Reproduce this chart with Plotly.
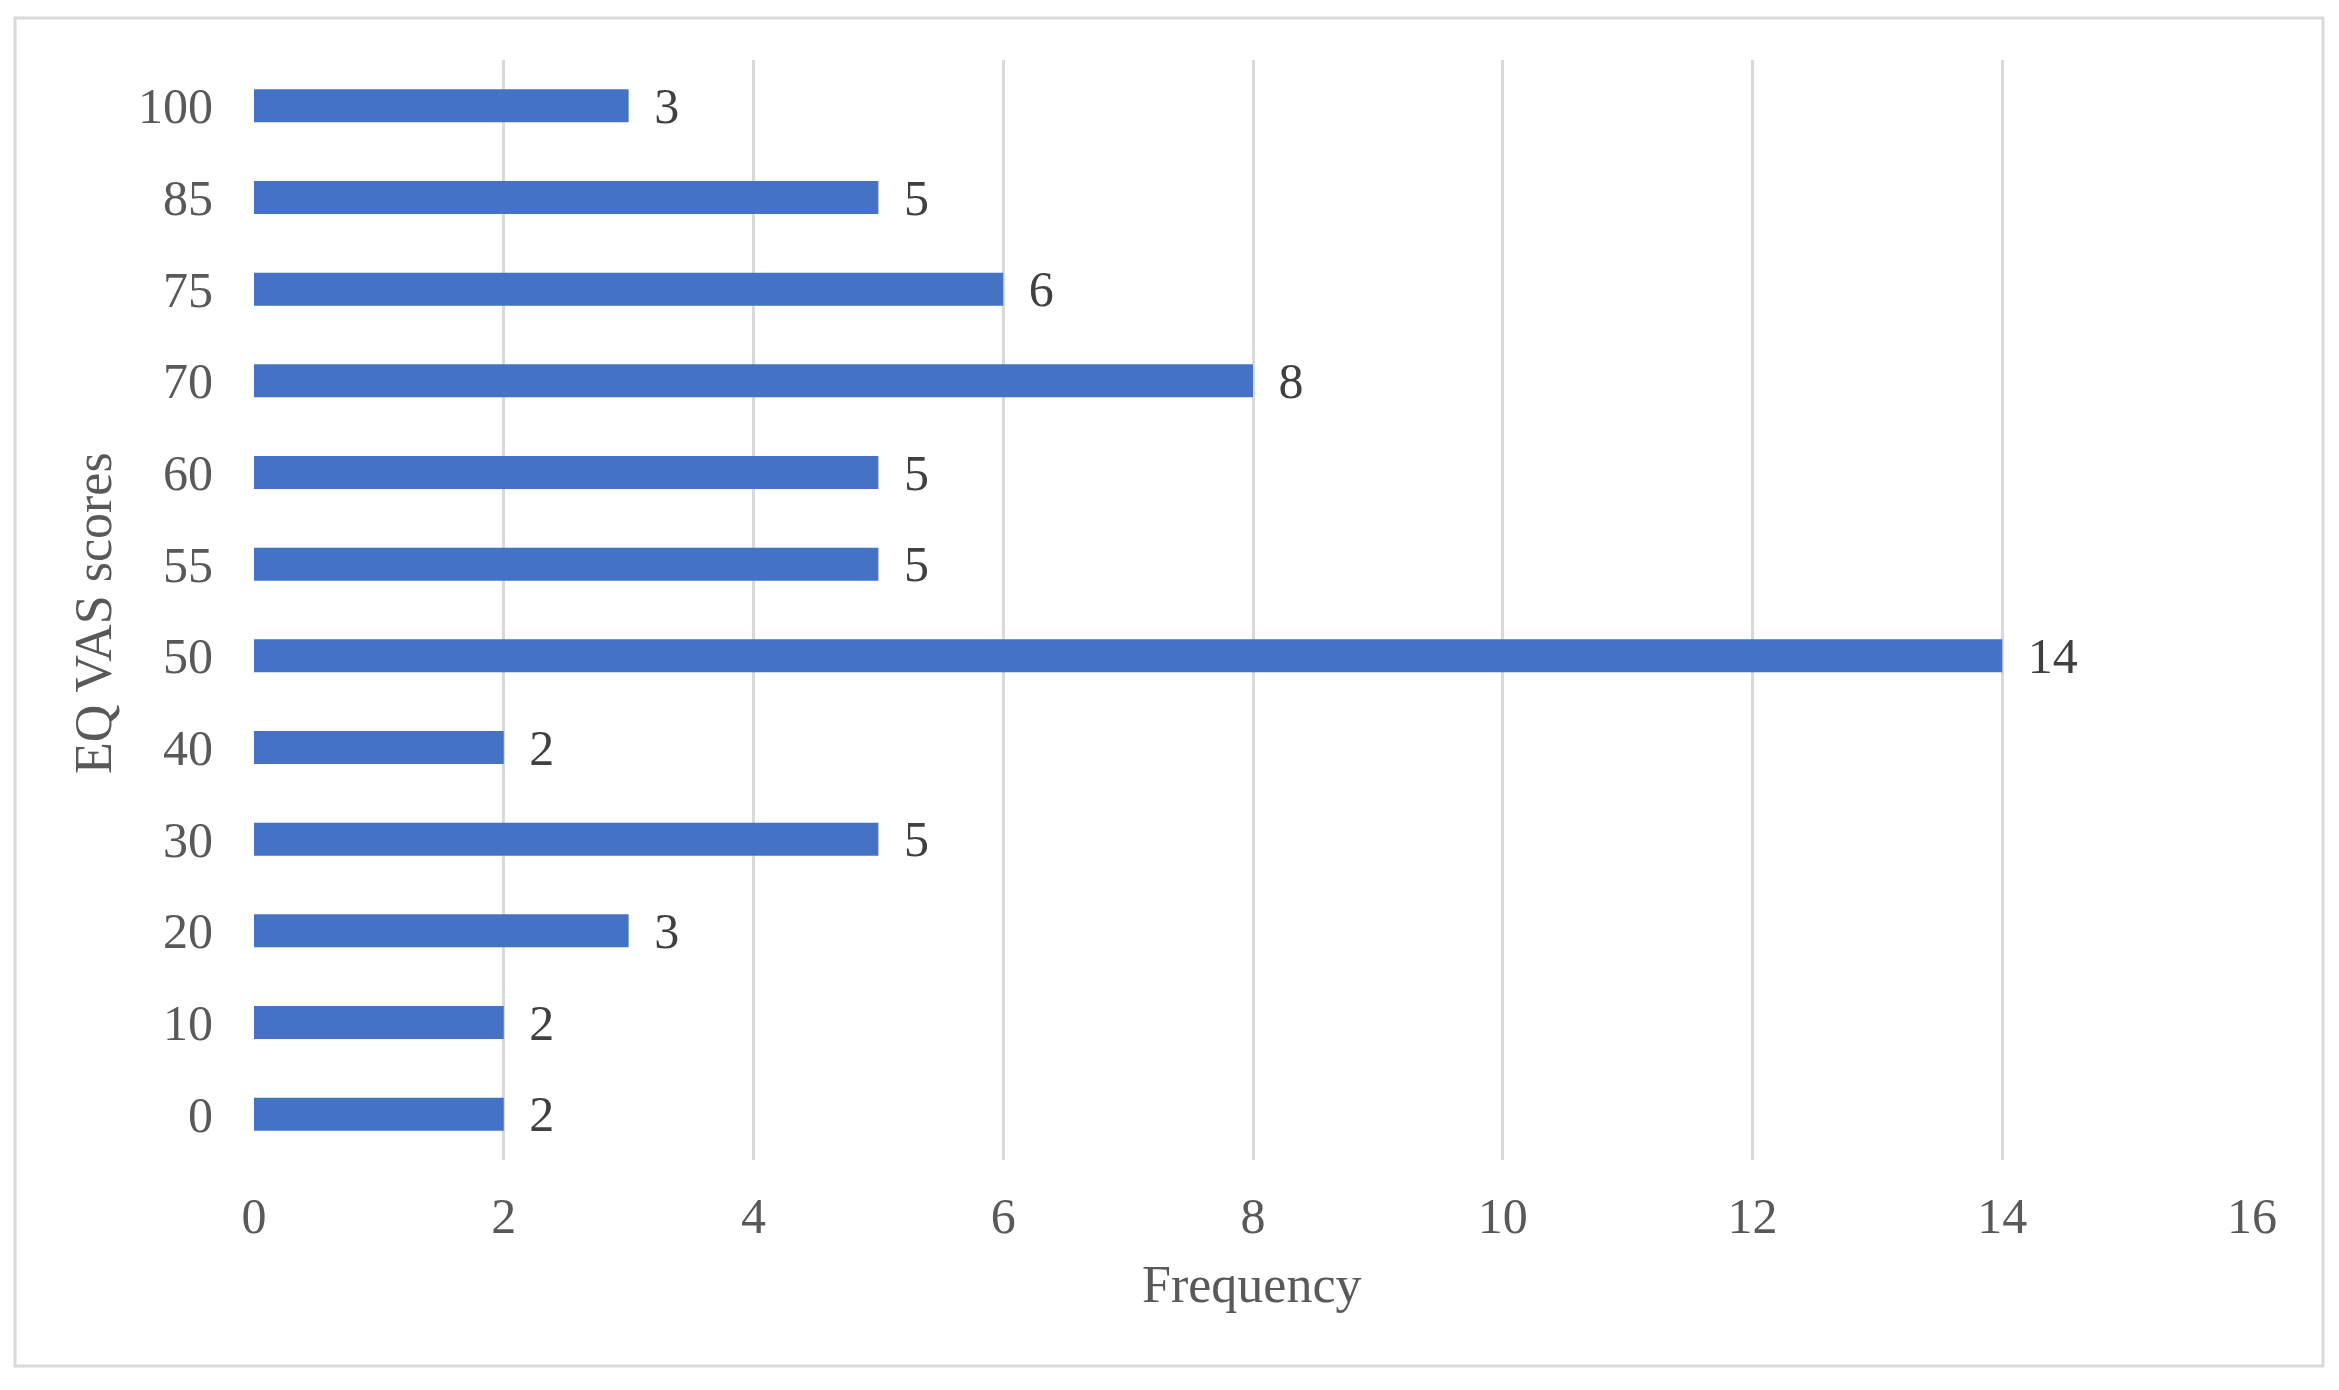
import plotly.graph_objects as go

scores = ["0", "10", "20", "30", "40", "50", "55", "60", "70", "75", "85", "100"]
frequency = [2, 2, 3, 5, 2, 14, 5, 5, 8, 6, 5, 3]
x_ticks = [0, 2, 4, 6, 8, 10, 12, 14, 16]
x_title = "Frequency"
y_title = "EQ VAS scores"

# page has an 8px body margin; figure sized to fit inside it
W, H = 2323, 1374
L, R, T, B = 246, 79, 52, 222
FONT = "Liberation Serif"

fig = go.Figure()
fig.add_trace(go.Bar(
    y=scores, x=frequency, orientation="h",
    marker=dict(color="#4472C4", line=dict(width=0)),
    text=frequency,
    texttemplate="\u00a0\u2009%{x}",
    textposition="outside",
    constraintext="none",
    cliponaxis=False,
    textfont=dict(family=FONT, size=50, color="#404040"),
    hoverinfo="x+y",
))

pw, ph = W - L - R, H - T - B
def px(xp): return (xp - L) / pw
def py(yp): return (H - B - yp) / ph

fig.add_shape(type="rect", xref="paper", yref="paper",
              x0=px(7), x1=px(2315), y0=py(1358), y1=py(10),
              line=dict(color="#D9D9D9", width=3), fillcolor="rgba(0,0,0,0)",
              layer="below")

fig.add_annotation(text=x_title, xref="paper", yref="paper",
                   x=px(1243), y=py(1276), xanchor="center", yanchor="middle",
                   showarrow=False,
                   font=dict(family=FONT, size=52, color="#595959"))
fig.add_annotation(text=y_title, xref="paper", yref="paper",
                   x=px(85), y=py(605), xanchor="center", yanchor="middle",
                   textangle=-90, showarrow=False,
                   font=dict(family=FONT, size=52, color="#595959"))

fig.update_layout(
    width=W, height=H,
    margin=dict(l=L, r=R, t=T, b=B, pad=0),
    paper_bgcolor="white", plot_bgcolor="white",
    bargap=0.64,
    showlegend=False,
    uniformtext=dict(mode=False),
    font=dict(family=FONT, size=50, color="#595959"),
    xaxis=dict(
        range=[0, 16], tickvals=x_ticks, ticktext=[str(v) for v in x_ticks],
        showgrid=True, gridcolor="#D9D9D9", gridwidth=3,
        zeroline=False, showline=False, ticks="",
        ticklabelstandoff=22,
        tickfont=dict(family=FONT, size=50, color="#595959"),
    ),
    yaxis=dict(
        type="category", categoryorder="array", categoryarray=scores,
        showgrid=False, zeroline=False, showline=False, ticks="",
        ticklabelstandoff=40,
        tickfont=dict(family=FONT, size=50, color="#595959"),
    ),
)

fig.write_html("out.html")
